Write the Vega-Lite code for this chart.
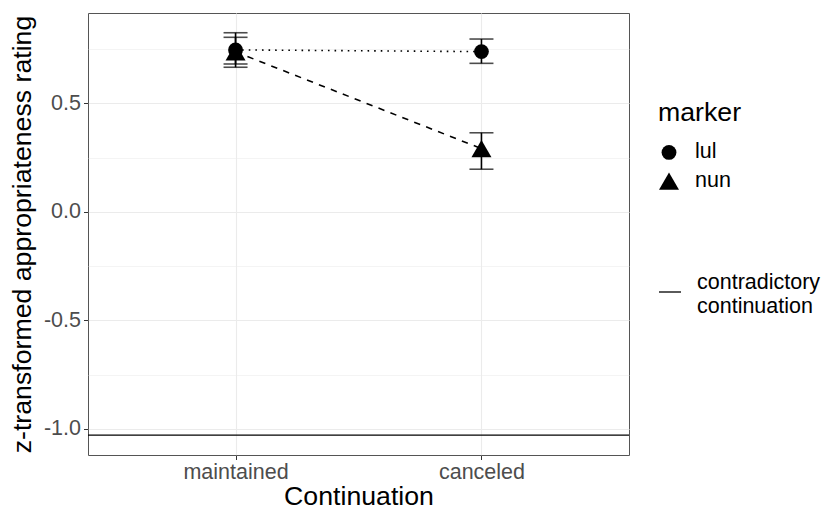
{
  "$schema": "https://vega.github.io/schema/vega-lite/v6.json",
  "width": 541,
  "height": 442,
  "autosize": {"type": "none"},
  "padding": {"left": 88, "top": 13, "right": 193, "bottom": 55},
  "background": "white",
  "config": {
    "font": "Liberation Sans",
    "view": {"stroke": "#555555", "strokeWidth": 1},
    "axis": {"titleFontWeight": "normal", "titleColor": "black", "labelColor": "#4D4D4D", "labelFontSize": 21.5, "titleFontSize": 26.7, "tickColor": "#333333", "tickSize": 4.5, "tickWidth": 1, "gridColor": "#EBEBEB", "domain": false},
    "legend": {"titleFontWeight": "normal", "titleColor": "black", "labelColor": "black", "titleFontSize": 26.7, "labelFontSize": 21.5}
  },
  "layer": [
    {
      "data": {"values": [
        {"Continuation": "maintained", "marker": "lul", "mean": 0.747, "low": 0.667, "high": 0.826},
        {"Continuation": "maintained", "marker": "nun", "mean": 0.738, "low": 0.682, "high": 0.805},
        {"Continuation": "canceled", "marker": "lul", "mean": 0.739, "low": 0.685, "high": 0.797},
        {"Continuation": "canceled", "marker": "nun", "mean": 0.292, "low": 0.197, "high": 0.365}
      ]},
      "encoding": {
        "x": {"field": "Continuation", "type": "nominal", "title": "Continuation",
              "scale": {"type": "point", "domain": ["maintained", "canceled"], "padding": 0.6},
              "axis": {"labelAngle": 0, "grid": true, "gridWidth": 1.1, "labelPadding": 2, "titlePadding": 0.5}}
      },
      "layer": [
        {
          "transform": [{"filter": "datum.marker == 'lul'"}],
          "mark": {"type": "line", "color": "black", "strokeWidth": 1.6, "strokeDash": [1.6, 5]},
          "encoding": {
            "y": {"field": "mean", "type": "quantitative", "title": "z-transformed appropriateness rating",
                  "scale": {"domain": [-1.12, 0.917], "nice": false, "zero": false},
                  "axis": {
                    "values": [-1, -0.75, -0.5, -0.25, 0, 0.25, 0.5, 0.75],
                    "labelExpr": "datum.value % 0.5 == 0 ? (datum.value < 0 ? '-' : '') + format(abs(datum.value), '.1f') : ''",
                    "gridWidth": {"condition": {"test": "datum.value % 0.5 == 0", "value": 1.1}, "value": 0.55},
                    "tickOpacity": {"condition": {"test": "datum.value % 0.5 == 0", "value": 1}, "value": 0},
                    "labelPadding": 3,
                    "titlePadding": 7
                  }}
          }
        },
        {
          "transform": [{"filter": "datum.marker == 'nun'"}],
          "mark": {"type": "line", "color": "black", "strokeWidth": 1.6, "strokeDash": [6.4, 6.4]},
          "encoding": {"y": {"field": "mean", "type": "quantitative"}}
        },
        {
          "mark": {"type": "rule", "color": "black", "strokeWidth": 1.6},
          "encoding": {
            "y": {"field": "low", "type": "quantitative"},
            "y2": {"field": "high"},
            "detail": {"field": "marker"}
          }
        },
        {
          "mark": {"type": "tick", "color": "black", "size": 24, "thickness": 1.6},
          "encoding": {"y": {"field": "low", "type": "quantitative"}}
        },
        {
          "mark": {"type": "tick", "color": "black", "size": 24, "thickness": 1.6},
          "encoding": {"y": {"field": "high", "type": "quantitative"}}
        },
        {
          "mark": {"type": "point", "filled": true, "color": "black", "opacity": 1},
          "encoding": {
            "y": {"field": "mean", "type": "quantitative"},
            "shape": {"field": "marker", "type": "nominal", "title": "marker",
                      "scale": {"domain": ["lul", "nun"], "range": ["circle", "triangle-up"]},
                      "legend": {"orient": "none", "legendX": 570, "legendY": 87, "titlePadding": 15, "rowPadding": 5.5, "labelOffset": 15, "symbolFillColor": "black", "symbolStrokeColor": "black"}},
            "size": {"field": "marker", "type": "nominal", "title": "marker",
                     "scale": {"domain": ["lul", "nun"], "range": [220, 400]},
                     "legend": {"orient": "none", "legendX": 570, "legendY": 87, "titlePadding": 15, "rowPadding": 5.5, "labelOffset": 15, "symbolFillColor": "black", "symbolStrokeColor": "black"}}
          }
        }
      ]
    },
    {
      "data": {"values": [{"yint": -1.028, "label": "contradictory continuation"}]},
      "mark": {"type": "rule", "color": "black", "strokeWidth": 1.3},
      "encoding": {
        "y": {"field": "yint", "type": "quantitative"},
        "color": {"field": "label", "type": "nominal", "title": null,
                  "scale": {"range": ["black"]},
                  "legend": {"orient": "none", "legendX": 570, "legendY": 267, "symbolType": "stroke", "symbolSize": 484, "symbolStrokeWidth": 1.3, "labelOffset": 15, "labelExpr": "split(datum.label, ' ')", "labelLineHeight": 18,
                             "encode": {"labels": {"update": {"dy": {"value": -9}}}}}}
      }
    }
  ]
}
